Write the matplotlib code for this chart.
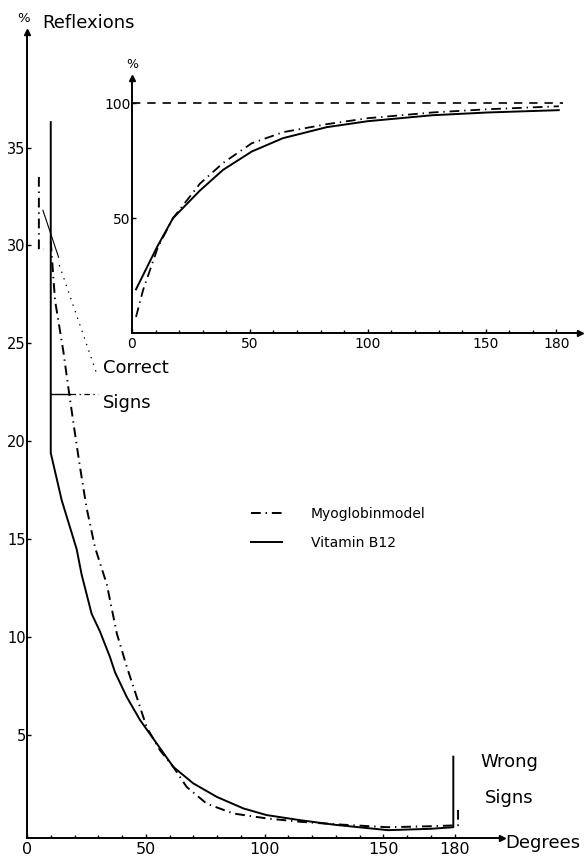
"""
Reflexions (%) against phase error in degrees, Myoglobin model vs Vitamin B12,
with an inset of the cumulative curve.
"""

import matplotlib
matplotlib.use("Agg")
import matplotlib.pyplot as plt
import numpy as np

plt.rcParams["font.family"] = ["DejaVu Sans"]
plt.rcParams["lines.scale_dashes"] = False

nan = np.nan

# main plot, % reflexions per phase-error bin
vit_deg = [10, 10, 10.4, 14.6, 20.9, 23.0, 27.2, 30.7, 34.9, 37.1, 42.0, 47.6, 54.6,
           61.6, 70.0, 79.9, 91.1, 100.9, 115, 130, 152, 170, 179.5, 179.5]
vit_pct = [36.3, 19.4, 19.2, 17.0, 14.5, 13.2, 11.2, 10.3, 9.0, 8.2, 6.95, 5.77, 4.58,
           3.38, 2.54, 1.85, 1.26, 0.92, 0.66, 0.42, 0.15, 0.22, 0.3, 3.9]

myo_deg = [5, 5, 7, nan, 10, 11.8, 15.3, 17.8, 20.2, 22.3, 25.1, 28.6, 33.6, 37.8, 42.0,
           46.2, 50.4, 56.0, 61.6, 67.2, 75.7, 86.9, 100.9, 115, 130, 152, 170, 181.5, 181.5]
myo_pct = [33.5, 29.8, 29.8, nan, 30.2, 27.2, 24.6, 22.4, 20.4, 18.7, 16.6, 14.6, 12.7,
           10.2, 8.5, 6.95, 5.4, 4.23, 3.38, 2.36, 1.5, 1.0, 0.75, 0.58, 0.45, 0.3, 0.35,
           0.4, 1.3]

# inset, cumulative %
vit_in_deg = [1.7, 10.6, 17.4, 28.8, 38.6, 50.8, 64, 82.6, 100, 127.5, 151, 181]
vit_in_pct = [19, 37.4, 50, 62, 71, 79, 84.8, 89.6, 92.2, 94.8, 96, 97]
myo_in_deg = [1.7, 4.7, 11, 17.4, 28.8, 38.6, 50.8, 64, 82.6, 100, 127.5, 151, 181]
myo_in_pct = [7, 18.7, 37.4, 50, 65, 74, 82.6, 87.4, 90.9, 93.5, 96, 97.4, 98.7]
ref_in_deg = [0, 183]
ref_in_pct = [100, 100]

main_xticks = [0, 50, 100, 150, 180]
main_yticks = [5, 10, 15, 20, 25, 30, 35]
inset_xticks = [0, 50, 100, 150, 180]
inset_yticks = [50, 100]

DASHDOT = (0, (7, 3.5, 1, 3.5))
LW = 1.4

W, H = 584, 857
fig = plt.figure(figsize=(W / 100, H / 100), dpi=100)


def style_axes(ax, label_size):
    for side in ["top", "right"]:
        ax.spines[side].set_visible(False)
    for side in ["left", "bottom"]:
        ax.spines[side].set_linewidth(1.4)
    ax.tick_params(which="both", direction="in", width=1, labelsize=label_size)
    ax.tick_params(which="major", length=3)
    ax.tick_params(which="minor", length=2.5)
    ax.tick_params(axis="y", pad=1)
    ax.tick_params(axis="x", pad=3)
    ax.plot(1, 0, marker=">", color="k", ms=5, transform=ax.transAxes, clip_on=False)
    ax.plot(0, 1, marker="^", color="k", ms=5, transform=ax.transAxes, clip_on=False)
    ax.patch.set_visible(False)


# ---- main axes ----
ax = fig.add_axes([27 / W, 1 - 838 / H, 475 / W, 806 / H])
ax.set_xlim(0, 200)
ax.set_ylim(-0.25, 40.9)
style_axes(ax, 10.5)
ax.set_xticks(main_xticks)
ax.set_xticks(range(10, 180, 10), minor=True)
ax.set_yticks(main_yticks)
ax.tick_params(axis="x", labelsize=11.5)

myo_line, = ax.plot(myo_deg, myo_pct, color="k", lw=LW, ls=DASHDOT)
vit_line, = ax.plot(vit_deg, vit_pct, color="k", lw=LW)

# "Correct Signs" pointers
ax.plot([6.7, 13.3], [31.8, 29.4], color="k", lw=0.8)
ax.plot([13.6, 29.5], [29.0, 23.4], color="k", lw=0.9, ls=(0, (1, 4)))
ax.plot([10, 18], [22.4, 22.4], color="k", lw=1.0)
ax.plot([18, 30], [22.4, 22.4], color="k", lw=0.9, ls=(0, (4, 2.5, 1, 2.5)))
ax.text(32, 23.5, "Correct", fontsize=13, va="baseline")
ax.text(32, 21.7, "Signs", fontsize=13, va="baseline")
ax.text(190.7, 3.37, "Wrong", fontsize=13, va="baseline", clip_on=False)
ax.text(192.8, 1.53, "Signs", fontsize=13, va="baseline", clip_on=False)

fig.text(505 / W, 1 - 848 / H, "Degrees", fontsize=13, va="baseline")
fig.text(17 / W, 1 - 22 / H, "%", fontsize=9.5, va="baseline")
fig.text(42 / W, 1 - 28 / H, "Reflexions", fontsize=13, va="baseline")

ax.legend([myo_line, vit_line], ["Myoglobinmodel", "Vitamin B12"],
          loc="upper left", bbox_to_anchor=(251 / W, 1 - 507 / H),
          bbox_transform=fig.transFigure, frameon=False, fontsize=10,
          handlelength=2.2, handletextpad=2.1, labelspacing=1.1, borderpad=0,
          borderaxespad=0)

# ---- inset ----
axi = fig.add_axes([132 / W, 1 - 333 / H, 448 / W, 255 / H])
axi.set_xlim(0, 190)
axi.set_ylim(0, 111)
style_axes(axi, 10)
axi.set_xticks(inset_xticks)
axi.set_xticks(range(10, 180, 10), minor=True)
axi.set_yticks(inset_yticks)

axi.plot(ref_in_deg, ref_in_pct, color="k", lw=1.2, ls=(0, (6, 5)))
axi.plot(myo_in_deg, myo_in_pct, color="k", lw=1.3, ls=DASHDOT)
axi.plot(vit_in_deg, vit_in_pct, color="k", lw=1.4)
fig.text(126 / W, 1 - 68 / H, "%", fontsize=9, va="baseline")

fig.savefig("out.png", dpi=100)
